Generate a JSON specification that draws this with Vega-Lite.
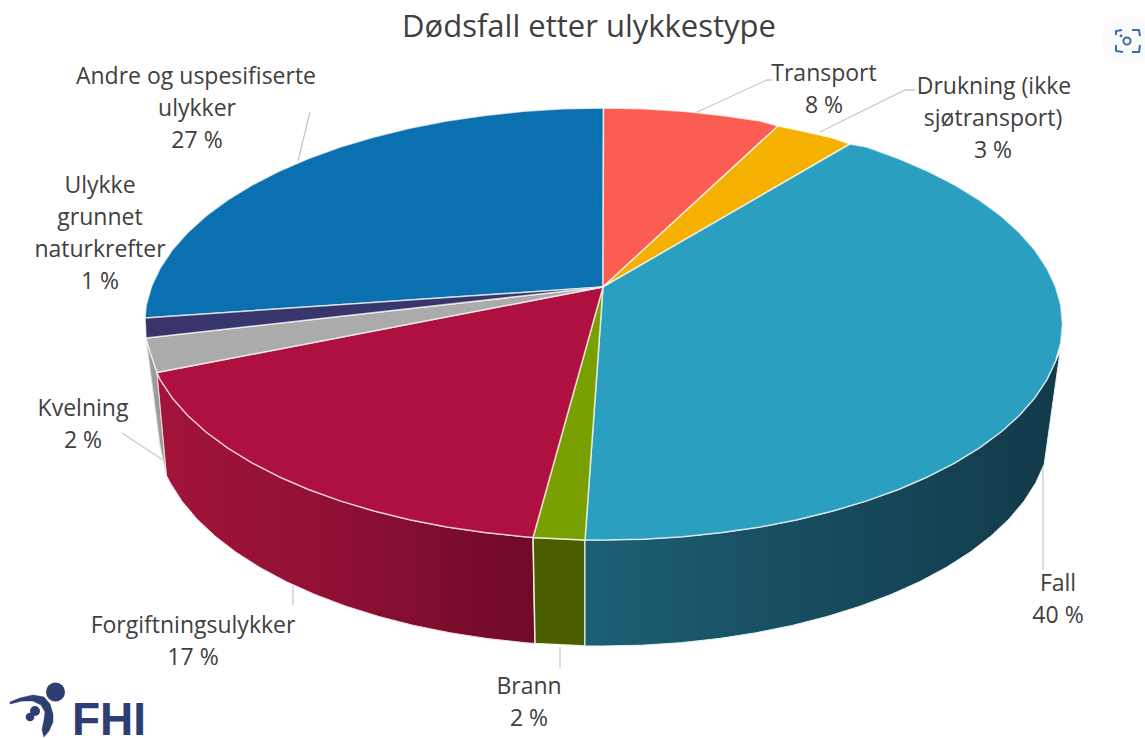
{"$schema":"https://vega.github.io/schema/vega-lite/v6.json","width":1145,"height":738,"padding":0,"autosize":"none","background":"#ffffff","view":{"stroke":null},
"encoding":{"x":{"field":"x","type":"quantitative","scale":{"domain":[0,1145],"nice":false,"zero":false},"axis":null},"y":{"field":"y","type":"quantitative","scale":{"domain":[738,0],"nice":false,"zero":false},"axis":null}},
"layer":[
{"data":{"values":[{"x":146,"y":338},{"x":150,"y":352},{"x":157,"y":372.5},{"x":166.5,"y":475.5},{"x":160,"y":445},{"x":147,"y":345},{"x":146,"y":338}]},"mark":{"type":"line","fill":"#9b9b9b","stroke":"#dddddd","strokeWidth":1},"encoding":{"order":{"value":null}}},
{"data":{"values":[{"x":157,"y":372.5},{"x":160.2,"y":379.9},{"x":172.2,"y":397.9},{"x":187.5,"y":415.3},{"x":206,"y":432},{"x":227.5,"y":447.9},{"x":251.9,"y":462.8},{"x":278.9,"y":476.7},{"x":308.5,"y":489.5},{"x":340.2,"y":500.9},{"x":374,"y":511},{"x":409.5,"y":519.8},{"x":446.5,"y":527},{"x":484.7,"y":532.6},{"x":523.8,"y":536.7},{"x":533,"y":537.5},{"x":535,"y":643.4},{"x":525.2,"y":642.7},{"x":487,"y":638.5},{"x":449.8,"y":632.7},{"x":413.7,"y":625.4},{"x":379,"y":616.5},{"x":346,"y":606.2},{"x":315,"y":594.5},{"x":286.2,"y":581.6},{"x":259.8,"y":567.4},{"x":236,"y":552.2},{"x":215,"y":536},{"x":197,"y":519},{"x":182,"y":501.2},{"x":170.3,"y":482.9},{"x":166.5,"y":475.5},{"x":157,"y":372.5}]},"mark":{"type":"line","stroke":"#f3dfe3","strokeWidth":1,"fill":{"gradient":"linear","x1":0,"y1":0,"x2":1,"y2":0,"stops":[{"offset":0,"color":"#a31339"},{"offset":0.5,"color":"#8e1034"},{"offset":1,"color":"#6e0a27"}]}},"encoding":{"order":{"value":null}}},
{"data":{"values":[{"x":533,"y":537.5},{"x":585,"y":540},{"x":585,"y":646},{"x":535,"y":643.4},{"x":533,"y":537.5}]},"mark":{"type":"line","fill":"#4a5e00","stroke":"#f2f2e0","strokeWidth":1.5},"encoding":{"order":{"value":null}}},
{"data":{"values":[{"x":1060,"y":352},{"x":1055.5,"y":361.5},{"x":1046.8,"y":379.9},{"x":1034.8,"y":397.9},{"x":1019.5,"y":415.3},{"x":1001,"y":432},{"x":979.5,"y":447.9},{"x":955.1,"y":462.8},{"x":928.1,"y":476.7},{"x":898.5,"y":489.5},{"x":866.8,"y":500.9},{"x":833,"y":511},{"x":797.5,"y":519.8},{"x":760.5,"y":527},{"x":722.3,"y":532.6},{"x":683.2,"y":536.7},{"x":643.5,"y":539.2},{"x":603.5,"y":540},{"x":585,"y":540},{"x":585,"y":646},{"x":603,"y":646},{"x":642,"y":645.2},{"x":680.8,"y":642.7},{"x":719,"y":638.5},{"x":756.2,"y":632.7},{"x":792.3,"y":625.4},{"x":827,"y":616.5},{"x":860,"y":606.2},{"x":891,"y":594.5},{"x":919.8,"y":581.6},{"x":946.2,"y":567.4},{"x":970,"y":552.2},{"x":991,"y":536},{"x":1009,"y":519},{"x":1024,"y":501.2},{"x":1035.7,"y":482.9},{"x":1044.2,"y":464.2},{"x":1060,"y":352}]},"mark":{"type":"line","stroke":"#e6f2f5","strokeWidth":1,"fill":{"gradient":"linear","x1":0,"y1":0,"x2":1,"y2":0,"stops":[{"offset":0,"color":"#1c5f75"},{"offset":0.5,"color":"#174b5e"},{"offset":1,"color":"#123a49"}]}},"encoding":{"order":{"value":null}}},
{"data":{"values":[
{"slice":"Andre","x":603,"y":287},{"slice":"Andre","x":145,"y":318},{"slice":"Andre","x":146.2,"y":305.2},{"slice":"Andre","x":151.5,"y":286.5},{"slice":"Andre","x":160.2,"y":268.1},{"slice":"Andre","x":172.2,"y":250.1},{"slice":"Andre","x":187.5,"y":232.7},{"slice":"Andre","x":206,"y":216},{"slice":"Andre","x":227.5,"y":200.1},{"slice":"Andre","x":251.9,"y":185.2},{"slice":"Andre","x":278.9,"y":171.3},{"slice":"Andre","x":308.5,"y":158.5},{"slice":"Andre","x":340.2,"y":147.1},{"slice":"Andre","x":374,"y":137},{"slice":"Andre","x":409.5,"y":128.2},{"slice":"Andre","x":446.5,"y":121},{"slice":"Andre","x":484.7,"y":115.4},{"slice":"Andre","x":523.8,"y":111.3},{"slice":"Andre","x":563.5,"y":108.8},{"slice":"Andre","x":603.5,"y":108},{"slice":"Andre","x":603,"y":287},
{"slice":"Transport","x":603,"y":287},{"slice":"Transport","x":603.5,"y":108},{"slice":"Transport","x":643.5,"y":108.8},{"slice":"Transport","x":683.2,"y":111.3},{"slice":"Transport","x":722.3,"y":115.4},{"slice":"Transport","x":760.5,"y":121},{"slice":"Transport","x":778,"y":126},{"slice":"Transport","x":603,"y":287},
{"slice":"Drukning","x":603,"y":287},{"slice":"Drukning","x":778,"y":126},{"slice":"Drukning","x":797.5,"y":130},{"slice":"Drukning","x":833,"y":138},{"slice":"Drukning","x":850,"y":144},{"slice":"Drukning","x":603,"y":287},
{"slice":"Fall","x":603,"y":287},{"slice":"Fall","x":850,"y":144},{"slice":"Fall","x":866.8,"y":147.1},{"slice":"Fall","x":898.5,"y":158.5},{"slice":"Fall","x":928.1,"y":171.3},{"slice":"Fall","x":955.1,"y":185.2},{"slice":"Fall","x":979.5,"y":200.1},{"slice":"Fall","x":1001,"y":216},{"slice":"Fall","x":1019.5,"y":232.7},{"slice":"Fall","x":1034.8,"y":250.1},{"slice":"Fall","x":1046.8,"y":268.1},{"slice":"Fall","x":1055.5,"y":286.5},{"slice":"Fall","x":1060.8,"y":305.2},{"slice":"Fall","x":1062.5,"y":324},{"slice":"Fall","x":1060.8,"y":342.8},{"slice":"Fall","x":1055.5,"y":361.5},{"slice":"Fall","x":1046.8,"y":379.9},{"slice":"Fall","x":1034.8,"y":397.9},{"slice":"Fall","x":1019.5,"y":415.3},{"slice":"Fall","x":1001,"y":432},{"slice":"Fall","x":979.5,"y":447.9},{"slice":"Fall","x":955.1,"y":462.8},{"slice":"Fall","x":928.1,"y":476.7},{"slice":"Fall","x":898.5,"y":489.5},{"slice":"Fall","x":866.8,"y":500.9},{"slice":"Fall","x":833,"y":511},{"slice":"Fall","x":797.5,"y":519.8},{"slice":"Fall","x":760.5,"y":527},{"slice":"Fall","x":722.3,"y":532.6},{"slice":"Fall","x":683.2,"y":536.7},{"slice":"Fall","x":643.5,"y":539.2},{"slice":"Fall","x":603.5,"y":540},{"slice":"Fall","x":585,"y":540},{"slice":"Fall","x":603,"y":287},
{"slice":"Brann","x":603,"y":287},{"slice":"Brann","x":585,"y":540},{"slice":"Brann","x":533,"y":537.5},{"slice":"Brann","x":603,"y":287},
{"slice":"Forgiftning","x":603,"y":287},{"slice":"Forgiftning","x":533,"y":537.5},{"slice":"Forgiftning","x":523.8,"y":536.7},{"slice":"Forgiftning","x":484.7,"y":532.6},{"slice":"Forgiftning","x":446.5,"y":527},{"slice":"Forgiftning","x":409.5,"y":519.8},{"slice":"Forgiftning","x":374,"y":511},{"slice":"Forgiftning","x":340.2,"y":500.9},{"slice":"Forgiftning","x":308.5,"y":489.5},{"slice":"Forgiftning","x":278.9,"y":476.7},{"slice":"Forgiftning","x":251.9,"y":462.8},{"slice":"Forgiftning","x":227.5,"y":447.9},{"slice":"Forgiftning","x":206,"y":432},{"slice":"Forgiftning","x":187.5,"y":415.3},{"slice":"Forgiftning","x":172.2,"y":397.9},{"slice":"Forgiftning","x":160.2,"y":379.9},{"slice":"Forgiftning","x":157,"y":372.5},{"slice":"Forgiftning","x":603,"y":287},
{"slice":"Kvelning","x":603,"y":287},{"slice":"Kvelning","x":157,"y":372.5},{"slice":"Kvelning","x":150,"y":352},{"slice":"Kvelning","x":146,"y":338},{"slice":"Kvelning","x":603,"y":287},
{"slice":"Naturkrefter","x":603,"y":287},{"slice":"Naturkrefter","x":146,"y":338},{"slice":"Naturkrefter","x":145,"y":318},{"slice":"Naturkrefter","x":603,"y":287}
]},"mark":{"type":"line","stroke":"#ffffff","strokeOpacity":0.7,"strokeWidth":1.5,"strokeJoin":"round"},"encoding":{"detail":{"field":"slice"},"order":{"value":null},"fill":{"field":"slice","type":"nominal","legend":null,"scale":{"domain":["Andre","Transport","Drukning","Fall","Brann","Forgiftning","Kvelning","Naturkrefter"],"range":["#0a70b0","#fc5d52","#f5b000","#2b9fbf","#7a9f00","#ae113f","#ababab","#37356b"]}}}},
{"data":{"values":[
{"leader":"Transport","x":697,"y":112},{"leader":"Transport","x":767,"y":80},{"leader":"Transport","x":772,"y":80},
{"leader":"Drukning","x":820,"y":132},{"leader":"Drukning","x":905,"y":90},{"leader":"Drukning","x":915,"y":90},
{"leader":"Fall","x":1043,"y":467},{"leader":"Fall","x":1043,"y":570},
{"leader":"Brann","x":560,"y":647},{"leader":"Brann","x":560,"y":668},
{"leader":"Forgiftning","x":293,"y":585},{"leader":"Forgiftning","x":293,"y":605},
{"leader":"Kvelning","x":163,"y":460},{"leader":"Kvelning","x":122,"y":433},
{"leader":"Andre","x":298,"y":161},{"leader":"Andre","x":310,"y":112}
]},"mark":{"type":"line","stroke":"#c9c9c9","strokeWidth":1.3},"encoding":{"detail":{"field":"leader"},"order":{"value":null}}},
{"data":{"values":[
{"t":"Transport","x":824,"y":74},{"t":"8 %","x":824,"y":106},
{"t":"Drukning (ikke","x":994,"y":87},{"t":"sjøtransport)","x":993,"y":119},{"t":"3 %","x":993,"y":151},
{"t":"Fall","x":1058,"y":584},{"t":"40 %","x":1058,"y":616},
{"t":"Brann","x":529,"y":687},{"t":"2 %","x":529,"y":719},
{"t":"Forgiftningsulykker","x":193,"y":626},{"t":"17 %","x":193,"y":658},
{"t":"Kvelning","x":83,"y":409},{"t":"2 %","x":83,"y":441},
{"t":"Ulykke","x":100,"y":186},{"t":"grunnet","x":100,"y":218},{"t":"naturkrefter","x":100,"y":250},{"t":"1 %","x":100,"y":282},
{"t":"Andre og uspesifiserte","x":196,"y":77},{"t":"ulykker","x":197,"y":109},{"t":"27 %","x":197,"y":141}
]},"mark":{"type":"text","font":"Open Sans","fontSize":23,"color":"#404040","align":"center","baseline":"middle"},"encoding":{"text":{"field":"t"}}},
{"data":{"values":[{"t":"Dødsfall etter ulykkestype","x":589,"y":28}]},"mark":{"type":"text","font":"Open Sans","fontSize":31,"color":"#404040","align":"center","baseline":"middle"},"encoding":{"text":{"field":"t"}}},
{"data":{"values":[{"t":"FHI","x":72,"y":735}]},"mark":{"type":"text","font":"Liberation Sans","fontWeight":"bold","fontSize":46,"color":"#2d3e73","align":"left","baseline":"alphabetic"},"encoding":{"text":{"field":"t"}}},
{"data":{"values":[{"x":10,"y":702},{"x":20,"y":698},{"x":33,"y":695},{"x":44,"y":697},{"x":50,"y":704},{"x":53,"y":714},{"x":53,"y":722},{"x":49,"y":731},{"x":44,"y":737},{"x":42,"y":730},{"x":44,"y":720},{"x":45,"y":712},{"x":41,"y":705},{"x":33,"y":701},{"x":22,"y":701},{"x":10,"y":704},{"x":10,"y":702}]},"mark":{"type":"line","fill":"#2d3e73","stroke":"#2d3e73","strokeWidth":0.5},"encoding":{"order":{"value":null}}},
{"data":{"values":[{"x":55.5,"y":692,"a":45},{"x":35,"y":711,"a":12},{"x":30,"y":717,"a":9}]},"mark":{"type":"point","filled":true,"color":"#2d3e73","opacity":1},"encoding":{"size":{"field":"a","type":"quantitative","legend":null,"scale":{"type":"identity"}}}},
{"data":{"values":[{"x":1127,"y":40}]},"mark":{"type":"point","filled":true,"color":"#fbfbfe","size":2600,"opacity":1}},
{"data":{"values":[
{"c":"a","x":1116,"y":35},{"c":"a","x":1116,"y":31},{"c":"a","x":1122,"y":30},
{"c":"b","x":1132,"y":30},{"c":"b","x":1139,"y":30},{"c":"b","x":1140,"y":36},
{"c":"c","x":1116,"y":45},{"c":"c","x":1116,"y":51},{"c":"c","x":1123,"y":52},
{"c":"d","x":1132,"y":52},{"c":"d","x":1139,"y":52},{"c":"d","x":1140,"y":45}
]},"mark":{"type":"line","stroke":"#3f6ea6","strokeWidth":2},"encoding":{"detail":{"field":"c"},"order":{"value":null}}},
{"data":{"values":[{"x":1127,"y":41}]},"mark":{"type":"point","filled":false,"color":"#3f6ea6","size":50,"strokeWidth":2,"opacity":1}},
{"data":{"values":[{"x":1121,"y":36}]},"mark":{"type":"point","filled":true,"color":"#3f6ea6","size":8,"opacity":1}}
]}
